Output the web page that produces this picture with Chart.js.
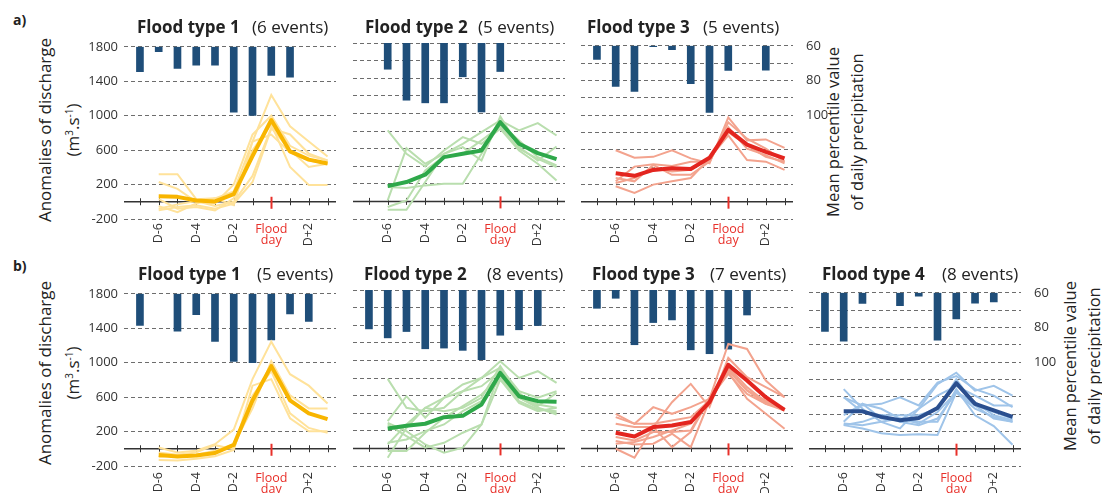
<!DOCTYPE html>
<html>
<head>
<meta charset="utf-8">
<script src="https://cdn.jsdelivr.net/npm/chart.js@4.4.1/dist/chart.umd.min.js"></script>
<style>
body{margin:0;background:#fff;width:1102px;height:493px;overflow:hidden;position:relative;font-family:"Open Sans",sans-serif;color:#222}
canvas{position:absolute}
.t{position:absolute;font-size:17px;line-height:20px;white-space:nowrap}
.t.b{font-weight:700}
.rot{position:absolute;font-size:17px;line-height:24px;white-space:nowrap;text-align:center;transform:translate(-50%,-50%) rotate(-90deg)}
.rot.r{font-size:16.5px}
.row{position:absolute;font-weight:700;font-size:14px;line-height:16px}
</style>
</head>
<body>
<div class="row" style="left:13px;top:12px">a)</div>
<div class="row" style="left:13px;top:258px">b)</div>
<div class="rot" style="left:59px;top:130px">Anomalies of discharge<br>(m<sup style="font-size:10px">3</sup>.s<sup style="font-size:10px">-1</sup>)</div>
<div class="rot" style="left:59px;top:373px">Anomalies of discharge<br>(m<sup style="font-size:10px">3</sup>.s<sup style="font-size:10px">-1</sup>)</div>
<div class="rot r" style="left:845px;top:132px">Mean percentile value<br>of daily precipitation</div>
<div class="rot r" style="left:1082px;top:366px">Mean percentile value<br>of daily precipitation</div>

<script>
// days relative to the flood day
const barDays = [-7, -6, -5, -4, -3, -2, -1, 0, 1, 2];
const lineDays = [-6, -5, -4, -3, -2, -1, 0, 1, 2, 3];
const tickDays = [-7, -6, -5, -4, -3, -2, -1, 0, 1, 2, 3];
const labelDays = [-6, -4, -2, 0, 2];
const labelText = ['D-6', 'D-4', 'D-2', 'Flood\nday', 'D+2'];

// a) row
const a1Precip = [74.5, 62.8, 72.6, 70.6, 70.6, 97.9, 99.8, 76.6, 77.7, null];
const a1Mean = [64, 57, 15, 4, 90, 530, 950, 585, 490, 445];
const a1Events = [
  [320, 320, 30, 40, 120, 700, 1240, 876, 700, 525],
  [230, 150, 0, -20, 200, 780, 1000, 650, 536, 480],
  [-100, -60, -40, -80, -20, 230, 850, 782, 560, 480],
  [-50, -120, -20, 40, -40, 700, 780, 574, 480, 442],
  [30, -80, -60, -100, 40, 600, 900, 404, 196, 196],
  [-80, -30, 10, -50, 0, 300, 860, 600, 404, 442]
];

const a2Precip = [null, 74.9, 92.5, 94, 94, 79.2, 99.2, 76.2, null, null];
const a2Mean = [174, 220, 303, 503, 541, 579, 900, 655, 549, 481];
const a2Events = [
  [806, 541, 397, 579, 730, 655, 825, 579, 428, 238],
  [11, 605, 428, 541, 655, 787, 920, 806, 889, 749],
  [-95, -95, 220, 541, 617, 465, 965, 617, 465, 624],
  [163, 151, 182, 200, 200, 541, 882, 693, 503, 409],
  [-64, 11, 352, 511, 541, 693, 852, 598, 484, 390]
];

const a3Precip = [67.9, 83.4, 86.4, 60.5, 62.3, 81.9, 98.5, 74.2, null, 74.0];
const a3Mean = [329, 299, 367, 386, 378, 507, 829, 659, 575, 500];
const a3Events = [
  [594, 507, 518, 594, 500, 443, 973, 708, 719, 621],
  [235, 405, 431, 413, 462, 462, 916, 727, 613, 462],
  [178, 102, 197, 235, 273, 500, 765, 481, 462, 367],
  [273, 235, 424, 310, 310, 462, 859, 613, 537, 443],
  [216, 273, 386, 348, 367, 500, 802, 651, 518, 462]
];

// b) row
const b1Precip = [78.3, null, 81.7, 72.1, 87.7, 99.2, 100, 86.8, 71.7, 76.0];
const b1Mean = [-72, -91, -79, -49, 45, 560, 960, 563, 412, 344];
const b1Events = [
  [15, -42, -23, 53, 223, 809, 1244, 866, 733, 525],
  [-129, -136, -117, -87, -15, 733, 809, 355, 204, 204],
  [-98, -68, -42, 42, -4, 620, 903, 412, 242, 185],
  [-42, -68, -68, -23, 53, 469, 1017, 620, 469, 469]
];

const b2Precip = [82.1, 87.2, 83.6, 93.4, 93, 94.3, 99.6, 85.7, 82.6, 80.2];
const b2Mean = [227, 257, 280, 355, 370, 499, 858, 593, 537, 529];
const b2Events = [
  [790, 461, 423, 461, 650, 801, 990, 801, 877, 745],
  [310, 593, 348, 575, 726, 801, 915, 650, 575, 650],
  [-106, 234, 461, 423, 461, 575, 934, 612, 499, 461],
  [-30, -30, 178, 348, 480, 612, 820, 537, 442, 423],
  [291, 197, 45, -49, 8, 272, 782, 575, 461, 386],
  [64, 102, 197, 272, 423, 537, 782, 518, 423, 461],
  [272, 140, 8, 64, 178, 272, 896, 631, 461, 404],
  [45, 272, 461, 575, 650, 707, 877, 575, 480, 631]
];

const b3Precip = [70.4, 64.7, 91.1, 78.5, 77, 94, 96.2, 93.6, 74.2, null];
const b3Mean = [178, 136, 242, 261, 299, 525, 949, 771, 582, 438];
const b3Events = [
  [393, 280, 469, 393, 469, 563, 1187, 1130, 771, 582],
  [280, 242, 242, 525, 733, 469, 1028, 809, 696, 582],
  [-4, -106, 242, 15, 185, 563, 903, 658, 507, 431],
  [83, 45, 53, 166, 15, 544, 866, 563, 393, 223],
  [129, 91, 185, 185, 204, 582, 884, 658, 544, 450],
  [355, 280, 280, 318, 355, 544, 922, 696, 525, 431],
  [53, 72, 129, 204, 280, 563, 847, 620, 507, 450]
];

const b4Precip = [82.3, 87.9, 66.2, null, 67.5, 61.9, 87.4, 75.1, 66, 65.3];
const b4Mean = [431, 431, 367, 329, 355, 469, 756, 518, 442, 367];
const b4Events = [
  [688, 461, 310, 234, 461, 745, 877, 669, 726, 612],
  [593, 499, 518, 593, 499, 764, 839, 688, 612, 480],
  [291, 272, 310, 348, 310, 310, 688, 386, 261, 45],
  [272, 234, 178, 159, 166, 159, 650, 537, 386, 329],
  [386, 518, 461, 348, 291, 423, 650, 499, 348, 310],
  [593, 423, 386, 310, 272, 348, 650, 461, 367, 310],
  [310, 518, 348, 329, 461, 612, 726, 612, 499, 499],
  [272, 310, 386, 386, 386, 461, 801, 499, 423, 348]
];

const panels = [
  {id: 'a1', title: 'Flood type 1', events: '(6 events)', precip: a1Precip, mean: a1Mean, ev: a1Events, col: '#F8B500', light: '#FFE29A', left: 124, top: 42.5, tx: 137, ex: 252, showL: true},
  {id: 'a2', title: 'Flood type 2', events: '(5 events)', precip: a2Precip, mean: a2Mean, ev: a2Events, col: '#2EA84A', light: '#B9DEAE', left: 353, top: 42.5, tx: 365, ex: 478},
  {id: 'a3', title: 'Flood type 3', events: '(5 events)', precip: a3Precip, mean: a3Mean, ev: a3Events, col: '#E3251F', light: '#F3A38E', left: 581, top: 42.5, tx: 587, ex: 703, showR: true},
  {id: 'b1', title: 'Flood type 1', events: '(5 events)', precip: b1Precip, mean: b1Mean, ev: b1Events, col: '#F8B500', light: '#FFE29A', left: 124, top: 289.5, tx: 138, ex: 257, showL: true, lab: 6},
  {id: 'b2', title: 'Flood type 2', events: '(8 events)', precip: b2Precip, mean: b2Mean, ev: b2Events, col: '#2EA84A', light: '#B9DEAE', left: 353, top: 289.5, tx: 364, ex: 487, lab: 6},
  {id: 'b3', title: 'Flood type 3', events: '(7 events)', precip: b3Precip, mean: b3Mean, ev: b3Events, col: '#E3251F', light: '#F3A38E', left: 581, top: 289.5, tx: 592, ex: 710, lab: 6},
  {id: 'b4', title: 'Flood type 4', events: '(8 events)', precip: b4Precip, mean: b4Mean, ev: b4Events, col: '#2A4F8F', light: '#9FC4E9', left: 809, top: 289.5, tx: 822, ex: 942, showR: true, lab: 6}
];

const LW = 60, RW = 45, PW = 212, PH = 176.5, PT = 10, PB = 32;

// zero line with day ticks, and the day labels under the panel
const dayAxis = {
  id: 'dayAxis',
  beforeDatasetsDraw(chart) {
    const {ctx, chartArea, scales: {x, y}} = chart;
    const y0 = y.getPixelForValue(0);
    ctx.save();
    ctx.strokeStyle = '#333';
    ctx.lineWidth = 1.5;
    ctx.beginPath();
    ctx.moveTo(chartArea.left, y0);
    ctx.lineTo(chartArea.right, y0);
    ctx.stroke();
    tickDays.forEach(d => {
      const px = Math.round(x.getPixelForValue(d)) + 0.5;
      ctx.beginPath();
      if (d === 0) {
        ctx.strokeStyle = '#E8302A';
        ctx.lineWidth = 2;
        ctx.moveTo(px, y0 - 5);
        ctx.lineTo(px, y0 + 7);
      } else {
        ctx.strokeStyle = '#333';
        ctx.lineWidth = 1;
        ctx.moveTo(px, y0 - 3.5);
        ctx.lineTo(px, y0 + 3.5);
      }
      ctx.stroke();
    });
    ctx.restore();
  },
  afterDraw(chart, args, opts) {
    const {ctx, chartArea, scales: {x}} = chart;
    const off = opts.off || 4;
    ctx.save();
    ctx.font = '12.5px "Open Sans"';
    labelDays.forEach((d, i) => {
      const px = x.getPixelForValue(d);
      const txt = labelText[i];
      if (d === 0) {
        ctx.fillStyle = '#E8302A';
        ctx.textAlign = 'center';
        ctx.textBaseline = 'middle';
        const parts = txt.split('\n');
        ctx.fillText(parts[0], px, chartArea.bottom + off + 6);
        ctx.fillText(parts[1], px, chartArea.bottom + off + 17.5);
      } else {
        ctx.fillStyle = '#333';
        ctx.translate(px, chartArea.bottom + off);
        ctx.rotate(-Math.PI / 2);
        ctx.textAlign = 'right';
        ctx.textBaseline = 'middle';
        ctx.fillText(txt, 0, 0);
        ctx.setTransform(1, 0, 0, 1, 0, 0);
      }
    });
    ctx.restore();
  }
};

function pts(days, vals) {
  return vals.map((v, i) => ({x: days[i], y: v}));
}

panels.forEach(p => {
  const cv = document.createElement('canvas');
  cv.width = LW + PW + RW;
  cv.height = PT + PH + PB;
  cv.style.left = (p.left - LW) + 'px';
  cv.style.top = (p.top - PT) + 'px';
  document.body.appendChild(cv);

  const t1 = document.createElement('div');
  t1.className = 't b';
  t1.textContent = p.title;
  t1.style.left = p.tx + 'px';
  t1.style.top = (p.top - 26) + 'px';
  document.body.appendChild(t1);
  const t2 = document.createElement('div');
  t2.className = 't';
  t2.textContent = p.events;
  t2.style.left = p.ex + 'px';
  t2.style.top = (p.top - 26) + 'px';
  document.body.appendChild(t2);

  const datasets = [];
  datasets.push({
    type: 'line', data: pts(lineDays, p.mean), borderColor: p.col, borderWidth: 4,
    pointRadius: 0, tension: 0, order: 0, yAxisID: 'y', borderJoinStyle: 'round'
  });
  p.ev.forEach(e => datasets.push({
    type: 'line', data: pts(lineDays, e), borderColor: p.light, borderWidth: 2,
    pointRadius: 0, tension: 0, order: 1, yAxisID: 'y'
  }));
  datasets.push({
    type: 'bar', data: pts(barDays, p.precip), backgroundColor: '#1F4E79',
    barThickness: 7, base: 60, order: 2, yAxisID: 'y2'
  });

  new Chart(cv, {
    type: 'line',
    data: {datasets},
    options: {
      responsive: false,
      animation: false,
      layout: {autoPadding: false, padding: {top: PT, bottom: PB, left: 0, right: 0}},
      plugins: {legend: {display: false}, tooltip: {enabled: false}, dayAxis: {off: p.lab || 4}},
      scales: {
        x: {type: 'linear', display: false, offset: false, min: -7.85, max: 3.45},
        y: {
          position: 'left', min: -200, max: 1800,
          afterFit: s => { s.width = LW; },
          ticks: {
            display: !!p.showL, stepSize: 200, padding: 6, color: '#333',
            font: {family: 'Open Sans', size: 13},
            callback: v => ((v + 200) % 400 === 0 ? v : '')
          },
          grid: {
            drawTicks: false, lineWidth: 1,
            color: c => (c.tick && c.tick.value === 0 ? 'rgba(0,0,0,0)' : '#6d6d6d')
          },
          border: {display: false, dash: [4, 3]}
        },
        y2: {
          position: 'right', reverse: true, min: 60, max: 160,
          afterFit: s => { s.width = RW; },
          ticks: {
            display: !!p.showR, stepSize: 20, padding: 5, color: '#333',
            font: {family: 'Open Sans', size: 13},
            callback: v => (v <= 100 ? v : '')
          },
          grid: {display: false},
          border: {display: false}
        }
      }
    },
    plugins: [dayAxis]
  });
});
</script>
</body>
</html>
